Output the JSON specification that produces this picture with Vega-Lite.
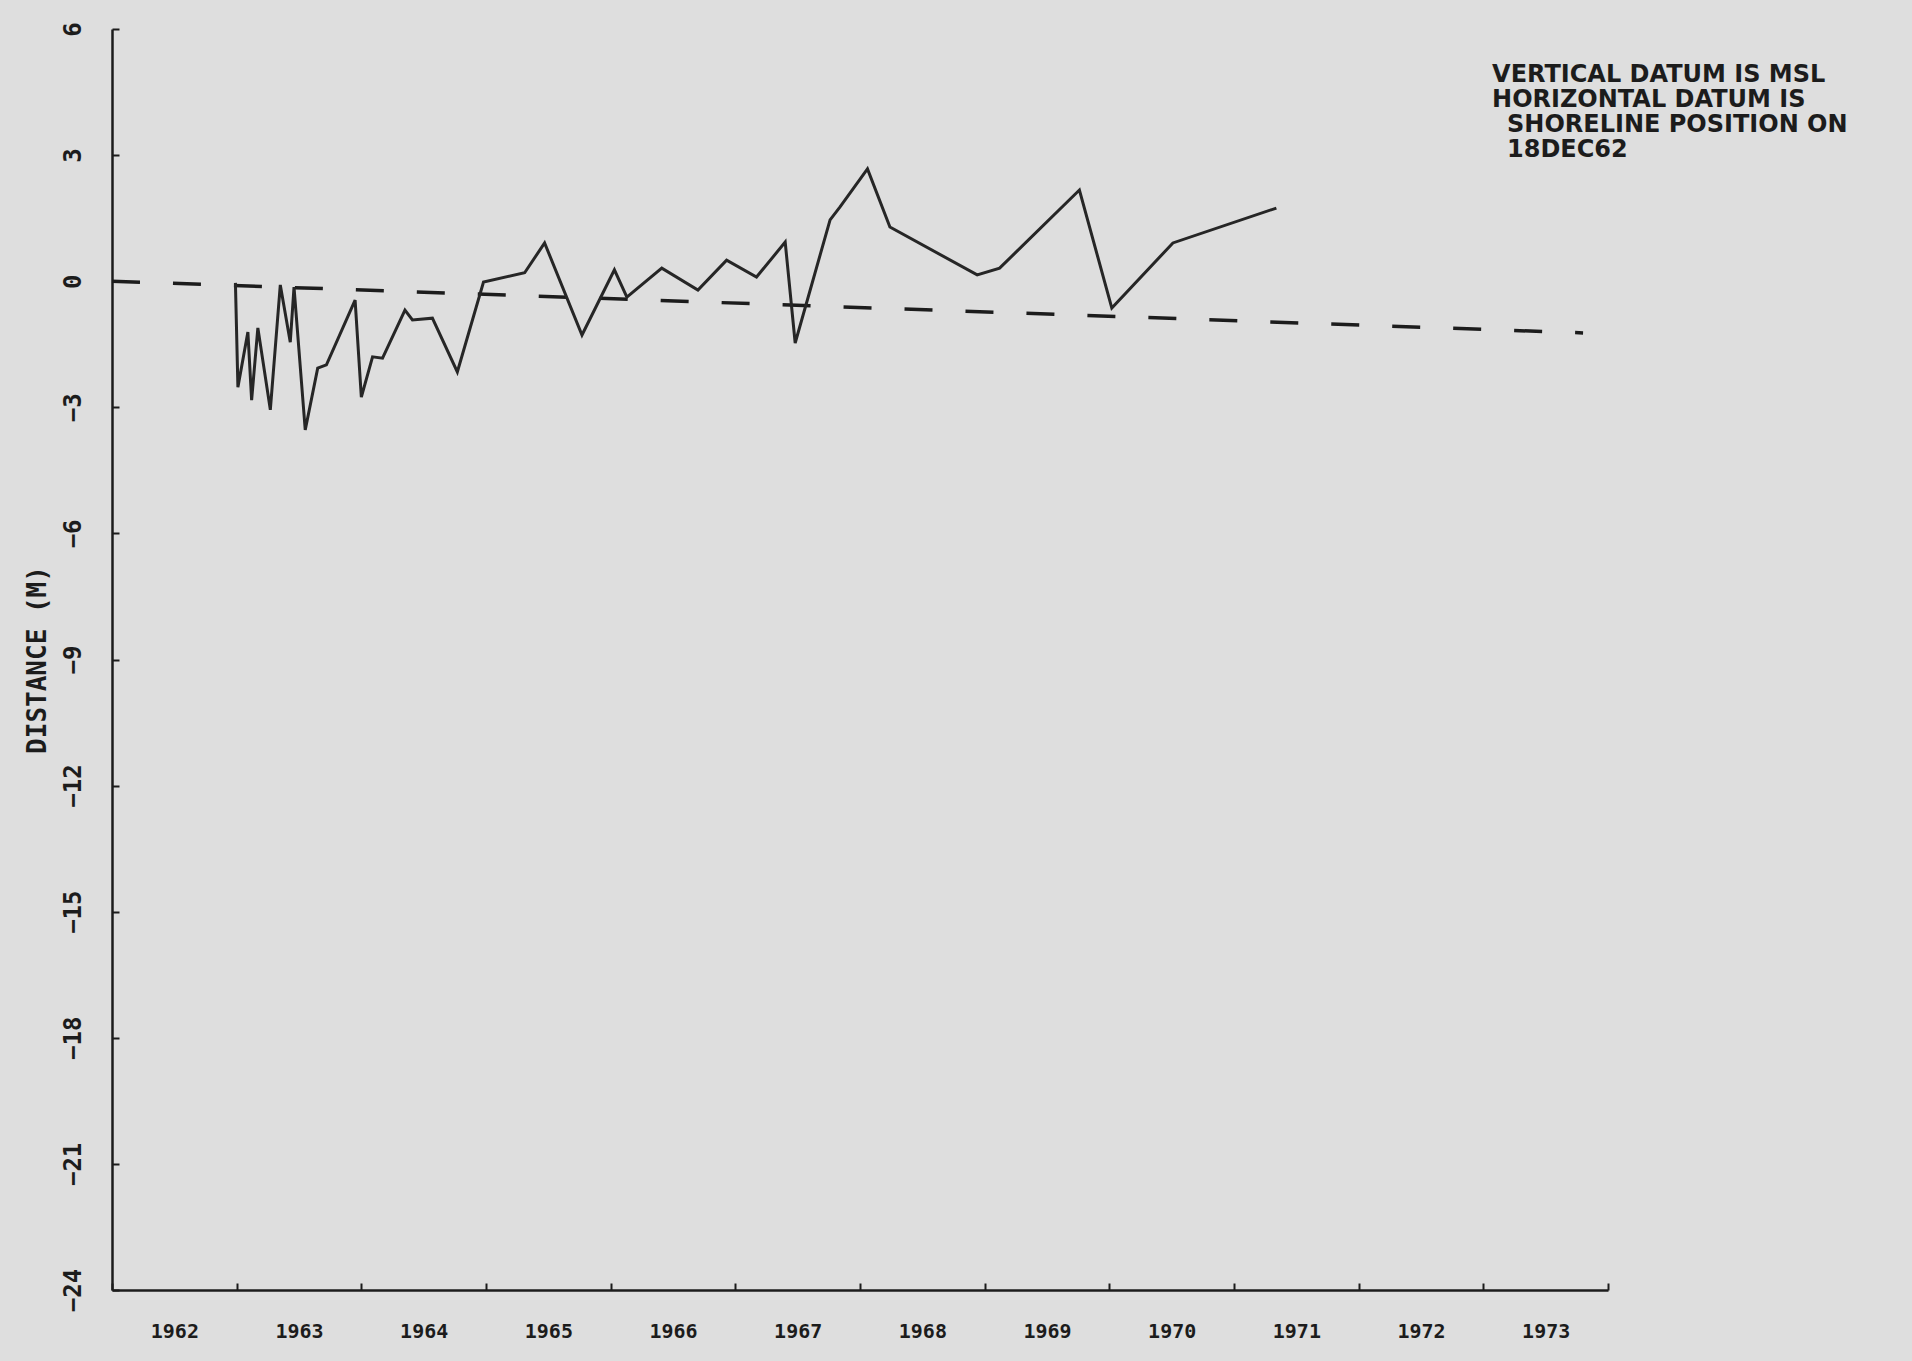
{
  "$schema": "https://vega.github.io/schema/vega-lite/v6.json",
  "width": 1496,
  "height": 1261,
  "autosize": {"type": "none"},
  "padding": {"left": 112, "top": 29, "right": 304, "bottom": 71},
  "background": "#dedede",
  "config": {
    "view": {"stroke": null},
    "axis": {
      "grid": false,
      "domainColor": "#1c1c1c",
      "domainWidth": 2.5,
      "tickColor": "#1c1c1c",
      "tickWidth": 2,
      "labelColor": "#1c1c1c",
      "titleColor": "#1c1c1c",
      "labelFont": "DejaVu Sans Mono",
      "titleFont": "DejaVu Sans Mono",
      "labelFontWeight": "bold",
      "titleFontWeight": "bold"
    }
  },
  "datasets": {
    "shoreline": [
      {"year": 1962.99, "distance": -0.04},
      {"year": 1963.01, "distance": -2.52},
      {"year": 1963.09, "distance": -1.21},
      {"year": 1963.12, "distance": -2.83},
      {"year": 1963.17, "distance": -1.11},
      {"year": 1963.27, "distance": -3.06},
      {"year": 1963.35, "distance": -0.09},
      {"year": 1963.43, "distance": -1.45},
      {"year": 1963.46, "distance": -0.14},
      {"year": 1963.55, "distance": -3.54},
      {"year": 1963.65, "distance": -2.07},
      {"year": 1963.72, "distance": -1.99},
      {"year": 1963.95, "distance": -0.45},
      {"year": 1964.0, "distance": -2.76},
      {"year": 1964.09, "distance": -1.8},
      {"year": 1964.17, "distance": -1.83},
      {"year": 1964.35, "distance": -0.69},
      {"year": 1964.41, "distance": -0.92},
      {"year": 1964.57, "distance": -0.88},
      {"year": 1964.77, "distance": -2.16},
      {"year": 1964.98, "distance": -0.02},
      {"year": 1965.31, "distance": 0.2},
      {"year": 1965.47, "distance": 0.91},
      {"year": 1965.77, "distance": -1.28},
      {"year": 1966.03, "distance": 0.27},
      {"year": 1966.13, "distance": -0.38},
      {"year": 1966.41, "distance": 0.31},
      {"year": 1966.7, "distance": -0.21},
      {"year": 1966.93, "distance": 0.5},
      {"year": 1967.17, "distance": 0.1},
      {"year": 1967.4, "distance": 0.93},
      {"year": 1967.48, "distance": -1.47},
      {"year": 1967.76, "distance": 1.46},
      {"year": 1967.84, "distance": 1.77},
      {"year": 1968.06, "distance": 2.67},
      {"year": 1968.24, "distance": 1.29},
      {"year": 1968.94, "distance": 0.15},
      {"year": 1969.12, "distance": 0.31},
      {"year": 1969.76, "distance": 2.17},
      {"year": 1970.02, "distance": -0.64},
      {"year": 1970.51, "distance": 0.91},
      {"year": 1971.34, "distance": 1.74}
    ],
    "trend": [
      {"year": 1962.0, "distance": 0.0},
      {"year": 1973.8, "distance": -1.23}
    ],
    "note1": [
      {"text": "VERTICAL DATUM IS MSL\nHORIZONTAL DATUM IS"}
    ],
    "note2": [
      {"text": "SHORELINE POSITION ON\n18DEC62"}
    ]
  },
  "resolve": {"axis": {"x": "independent", "y": "independent"}},
  "layer": [
    {
      "data": {"name": "trend"},
      "mark": {"type": "line", "strokeDash": [28, 33], "strokeWidth": 3.5, "color": "#1c1c1c"},
      "encoding": {
        "x": {
          "field": "year",
          "type": "quantitative",
          "scale": {"domain": [1962, 1974], "nice": false, "zero": false},
          "axis": {
            "orient": "bottom",
            "values": [1962.5, 1963.5, 1964.5, 1965.5, 1966.5, 1967.5, 1968.5, 1969.5, 1970.5, 1971.5, 1972.5, 1973.5],
            "labelExpr": "floor(datum.value) + ''",
            "ticks": false,
            "labelPadding": 31,
            "labelFontSize": 20,
            "labelOverlap": false,
            "labelBound": false,
            "labelFlush": false,
            "title": null
          }
        },
        "y": {
          "field": "distance",
          "type": "quantitative",
          "scale": {"domain": [-24, 6], "nice": false, "zero": false},
          "axis": {
            "orient": "left",
            "values": [-24, -21, -18, -15, -12, -9, -6, -3, 0, 3, 6],
            "labelAngle": -90,
            "labelAlign": "center",
            "labelBaseline": "bottom",
            "ticks": false,
            "labelPadding": 27,
            "labelFontSize": 24,
            "labelOverlap": false,
            "labelBound": false,
            "labelFlush": false,
            "title": "DISTANCE (M)",
            "titleFontSize": 26,
            "titlePadding": 11
          }
        }
      }
    },
    {
      "data": {"name": "shoreline"},
      "mark": {"type": "line", "strokeWidth": 3, "color": "#262626"},
      "encoding": {
        "x": {
          "field": "year",
          "type": "quantitative",
          "axis": {
            "orient": "top",
            "offset": -1261,
            "values": [1962, 1963, 1964, 1965, 1966, 1967, 1968, 1969, 1970, 1971, 1972, 1973, 1974],
            "domain": false,
            "labels": false,
            "tickSize": 7,
            "title": null
          }
        },
        "y": {
          "field": "distance",
          "type": "quantitative",
          "axis": {
            "orient": "right",
            "offset": -1496,
            "values": [-24, -21, -18, -15, -12, -9, -6, -3, 0, 3, 6],
            "domain": false,
            "labels": false,
            "tickSize": 7,
            "title": null
          }
        }
      }
    },
    {
      "data": {"name": "note1"},
      "mark": {"type": "text", "align": "left", "baseline": "top", "font": "DejaVu Sans", "fontWeight": "bold", "fontSize": 24, "lineHeight": 25, "lineBreak": "\n", "color": "#1c1c1c"},
      "encoding": {
        "x": {"datum": 1973.07, "axis": null},
        "y": {"datum": 5.19, "axis": null},
        "text": {"field": "text"}
      }
    },
    {
      "data": {"name": "note2"},
      "mark": {"type": "text", "align": "left", "baseline": "top", "font": "DejaVu Sans", "fontWeight": "bold", "fontSize": 24, "lineHeight": 25, "lineBreak": "\n", "color": "#1c1c1c"},
      "encoding": {
        "x": {"datum": 1973.19, "axis": null},
        "y": {"datum": 4.0, "axis": null},
        "text": {"field": "text"}
      }
    }
  ]
}
